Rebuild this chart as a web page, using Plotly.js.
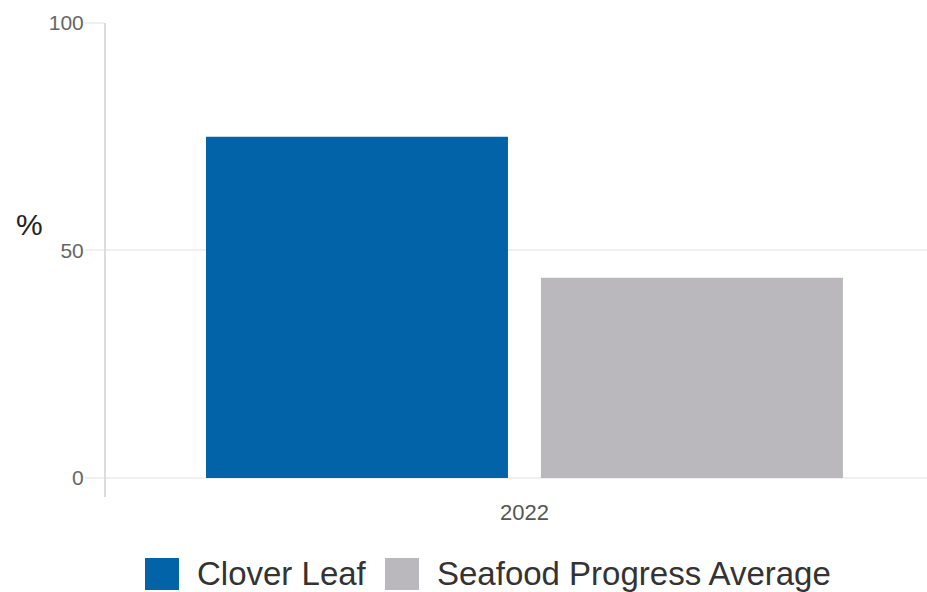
<!DOCTYPE html>
<html>
<head>
<meta charset="utf-8">
<script src="https://cdn.plot.ly/plotly-3.0.1.min.js"></script>
<style>html,body{margin:0;padding:0;background:#fff}#chart{width:927px;height:592px}</style>
</head>
<body>
<div id="chart"></div>
<script>
const categories = ['2022'];
const seriesNames = ['Clover Leaf', 'Seafood Progress Average'];
const cloverLeaf = [75];
const seafoodAverage = [44];
const yTickValues = [0, 50, 100];
const yTickLabels = ['0', '50', '100'];
const seriesColors = ['#0263a8', '#bab8bd'];

const traces = [
  {type: 'bar', name: seriesNames[0], x: categories, y: cloverLeaf, marker: {color: seriesColors[0]}, hoverinfo: 'y+name'},
  {type: 'bar', name: seriesNames[1], x: categories, y: seafoodAverage, marker: {color: seriesColors[1]}, hoverinfo: 'y+name'}
];

// manual legend (large swatches)
const legendShapes = [];
const legendAnnots = [];
const swatchX = [0.0475, 0.3398];
const textX = [0.1084, 0.4007];
for (let i = 0; i < seriesNames.length; i++) {
  legendShapes.push({type: 'rect', xref: 'paper', yref: 'paper', x0: swatchX[i], x1: swatchX[i] + 0.0414,
    y0: -0.1962, y1: -0.1287, fillcolor: seriesColors[i], line: {width: 0}});
  legendAnnots.push({xref: 'paper', yref: 'paper', x: textX[i], y: -0.1624, xanchor: 'left', yanchor: 'middle',
    text: seriesNames[i], showarrow: false, font: {family: 'Liberation Sans, Arial, sans-serif', size: 33, color: '#333'}});
}

const layout = {
  width: 927, height: 592,
  margin: {l: 106, r: 0, t: 23, b: 95},
  paper_bgcolor: '#fff', plot_bgcolor: '#fff',
  showlegend: false,
  barmode: 'group', bargap: 0.184, bargroupgap: 0.0985,
  xaxis: {type: 'category', range: [-0.5097, 0.4903], showline: false, ticks: '', showgrid: false, zeroline: false,
    tickfont: {family: 'Liberation Sans, Arial, sans-serif', size: 22, color: '#555'}, fixedrange: true},
  yaxis: {range: [-4.18, 100], tickvals: yTickValues, ticktext: yTickLabels, showline: true, linecolor: '#dcdcdc', linewidth: 2,
    ticks: 'outside', ticklen: 19, tickcolor: '#f0f0f0', tickwidth: 2, showgrid: true, gridcolor: '#f0f0f0', gridwidth: 2,
    zeroline: false, ticklabelstandoff: -3,
    tickfont: {family: 'Liberation Sans, Arial, sans-serif', size: 21, color: '#666'}, fixedrange: true},
  shapes: [
    {type: 'line', xref: 'paper', yref: 'y', x0: -0.022, x1: 1, y0: 0, y1: 0, line: {color: '#d0d0d0', width: 2}, layer: 'below'}
  ].concat(legendShapes),
  annotations: [
    {xref: 'paper', yref: 'paper', x: -0.0926, y: 0.574, xanchor: 'center', yanchor: 'middle', text: '%', showarrow: false,
      font: {family: 'Liberation Sans, Arial, sans-serif', size: 30, color: '#222'}}
  ].concat(legendAnnots)
};

Plotly.newPlot('chart', traces, layout, {displayModeBar: false, staticPlot: true});
</script>
</body>
</html>
